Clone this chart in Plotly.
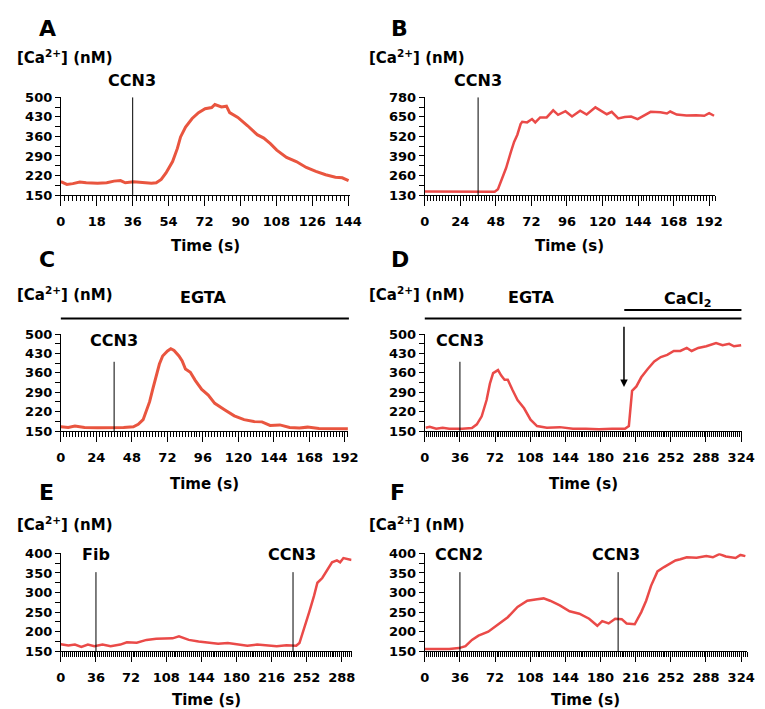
import plotly.graph_objects as go

W, H = 765, 709
FONT = "DejaVu Sans"
RED = "#e9553f"
RED2 = "#ea4a48"

# --- data (time in s, [Ca2+] in nM) ---
A_T = [0, 3, 6, 9.5, 12.7, 18.4, 23, 26.6, 29.9, 32.3, 36.4, 41.3, 45.4, 47.8, 50.3, 52.7,
       56, 58.4, 60, 62.5, 65.8, 69, 72.3, 75.6, 77.2, 80.5, 83, 84.6, 88.7, 93.6, 98.4,
       101.7, 105, 108.2, 113.1, 118, 123, 127.8, 132.7, 137.6, 141, 144.2]
A_CA = [198, 188, 191, 197, 194, 192, 194, 200, 202, 194, 198, 195, 192, 194, 206, 229,
        270, 317, 358, 393, 424, 445, 459, 463, 474, 465, 468, 445, 428, 398, 366,
        354, 334, 311, 285, 270, 249, 235, 223, 214, 212, 202]

B_T = [0, 16.5, 36.2, 40.6, 47.2, 49.4, 51.6, 54.9, 58.2, 60.3, 62.5, 64.7, 65.8, 69.1,
       72.4, 74.6, 77.9, 82.3, 86.7, 90, 95, 99.4, 104.9, 109.3, 115.2, 119.6, 122.9,
       126.2, 130.6, 135, 139.3, 143.7, 148.1, 152.5, 159.1, 163.5, 165.7, 170.1, 176.7,
       183.2, 188.7, 192, 195.3]
B_CA = [154, 154, 156, 152, 152, 169, 223, 310, 418, 483, 531, 602, 617, 613,
        635, 613, 646, 646, 693, 663, 687, 652, 691, 665, 713, 689, 667,
        683, 639, 648, 652, 635, 657, 683, 680, 672, 685, 665, 659,
        661, 657, 674, 657]

C_T = [0, 5, 9.5, 16, 24.9, 33.6, 42.4, 49, 52.3, 55.6, 57.8, 60, 62.2, 64.4, 66.6, 68.8,
       72.1, 74.3, 76.5, 79.8, 82, 84.2, 87.5, 90.8, 95.2, 99.6, 104, 110.6, 117.2, 123.8,
       130.4, 135.9, 141.4, 148, 154.6, 161.2, 166.7, 174.4, 183.2, 194]
C_CA = [165, 163, 168, 163, 162, 162, 163, 165, 174, 191, 221, 256, 303, 350, 392, 421,
        439, 447, 441, 421, 403, 374, 362, 333, 300, 280, 250, 227, 205, 191,
        184, 183, 170, 172, 163, 161, 164, 159, 158, 158]

D_T = [1, 5, 11.7, 18.3, 25, 38.3, 48.3, 53.3, 58.3, 63.3, 66.7, 70, 75, 78.3, 81.7, 85,
       90, 95, 101.7, 108.3, 115, 125, 138.3, 151.7, 165, 178.3, 191.7, 205, 209, 211,
       212.3, 216.7, 221.7, 228.3, 235, 241.7, 248.3, 255, 261.7, 268.3, 273.3, 280,
       288.3, 298.3, 305, 311.7, 316.7, 324]
D_CA = [162, 165, 158, 162, 158, 158, 161, 174, 203, 262, 321, 359, 370, 350, 335, 335,
        297, 262, 232, 191, 168, 162, 164, 158, 158, 156, 158, 158, 168, 238,
        295, 311, 344, 374, 401, 417, 425, 439, 439, 450, 439, 450,
        456, 468, 460, 465, 456, 460]

E_T = [0, 7.7, 14.4, 21, 27.7, 34.4, 42.7, 51, 61, 67.7, 77.8, 87.8, 97.8, 107.8, 114.5,
       121.1, 131.2, 141.2, 151.2, 161.2, 171.2, 181.2, 191.2, 201.2, 211.2, 221.3, 231.3,
       241.3, 244.6, 249.6, 254.6, 259.6, 263, 268, 273, 278, 283, 286.3, 289.7, 298]
E_CA = [168, 165, 167, 161, 167, 163, 167, 163, 167, 173, 172, 179, 182, 183, 183,
        188, 179, 175, 172, 169, 171, 167, 164, 167, 165, 163, 165,
        164, 171, 208, 250, 292, 325, 337, 358, 377, 382, 377, 388, 383]

F_T = [0, 11.7, 25, 35, 41.7, 48.3, 55, 65, 75, 85, 95, 105, 115, 121.7, 128.3, 138.3,
       148.3, 158.3, 168.3, 176.7, 181.7, 188.3, 195, 201.7, 206.7, 215, 221.7, 226.7,
       231.7, 238.3, 245, 251.7, 256.7, 261.7, 268.3, 278.3, 288.3, 295, 301.7, 308.3,
       318.3, 323.3, 328.3]
F_CA = [156, 156, 156, 158, 163, 179, 190, 200, 218, 237, 263, 279, 283, 285, 279, 267,
        252, 246, 233, 215, 227, 221, 233, 232, 221, 219, 250, 279,
        317, 354, 365, 375, 382, 385, 390, 389, 393, 390, 398, 392,
        388, 396, 393]

YTICKS_A = [150, 220, 290, 360, 430, 500]
YTICKS_B = [130, 260, 390, 520, 650, 780]
YTICKS_CD = [150, 220, 290, 360, 430, 500]
YTICKS_EF = [150, 200, 250, 300, 350, 400]


def px(x):
    return x / W


def py(y):
    return 1 - y / H


# letter, t, ca, color, pixel box (x0, x1, ytop, ybottom), x range, y ticks, x dtick,
# stimulus markers (t, top value, label, label pixel pos)
panels = [
    dict(letter="A", t=A_T, ca=A_CA, color=RED, lw=3, box=(49, 345.3, 84, 184), xr=[0, 145],
         yt=YTICKS_A, xd=18, letter_pos=(35, 14), ca_pos=(2, 43), time_y=236,
         marks=[(36, 500, "CCN3", (122, 67))]),
    dict(letter="B", t=B_T, ca=B_CA, color=RED2, lw=2.5, box=(421.7, 719, 84, 184), xr=[0, 196],
         yt=YTICKS_B, xd=24, letter_pos=(396, 14), ca_pos=(363, 43), time_y=236,
         marks=[(36, 780, "CCN3", (476, 67))]),
    dict(letter="C", t=C_T, ca=C_CA, color=RED, lw=3, box=(49, 343, 326, 425), xr=[0, 194],
         yt=YTICKS_CD, xd=24, letter_pos=(35, 250), ca_pos=(2, 285), time_y=479,
         marks=[(36, 400, "CCN3", (103, 333))]),
    dict(letter="D", t=D_T, ca=D_CA, color=RED2, lw=2.5, box=(421.7, 746.7, 326, 425), xr=[0, 325],
         yt=YTICKS_CD, xd=36, letter_pos=(396, 250), ca_pos=(363, 285), time_y=479,
         marks=[(36, 400, "CCN3", (458, 333))]),
    dict(letter="E", t=E_T, ca=E_CA, color=RED2, lw=2.5, box=(49, 346.7, 550, 650), xr=[0, 298],
         yt=YTICKS_EF, xd=36, letter_pos=(34, 488), ca_pos=(2, 520), time_y=700,
         marks=[(36, 352, "Fib", (85, 551)), (238, 352, "CCN3", (286, 551))]),
    dict(letter="F", t=F_T, ca=F_CA, color=RED2, lw=2.5, box=(421.7, 751.7, 550, 650), xr=[0, 330],
         yt=YTICKS_EF, xd=36, letter_pos=(394, 488), ca_pos=(363, 520), time_y=700,
         marks=[(36, 352, "CCN2", (457, 551)), (198, 352, "CCN3", (618, 551))]),
]

fig = go.Figure()
shapes = []
annotations = []


def text(s, x, y, size, xanchor="center"):
    annotations.append(dict(
        text=s, x=px(x), y=py(y), xref="paper", yref="paper", showarrow=False,
        xanchor=xanchor, yanchor="middle",
        font=dict(family=FONT, size=size, color="black", weight="bold"),
    ))


for i, p in enumerate(panels, start=1):
    sfx = "" if i == 1 else str(i)
    xk, yk = "x" + sfx, "y" + sfx
    x0, x1, yt, yb = p["box"]
    step = p["yt"][1] - p["yt"][0]

    fig.add_trace(go.Scatter(
        x=p["t"], y=p["ca"], mode="lines", xaxis=xk, yaxis=yk,
        line=dict(color=p["color"], width=p["lw"]), hoverinfo="skip", showlegend=False,
    ))

    fig.update_layout({
        "xaxis" + sfx: dict(
            domain=[px(x0), px(x1)], range=p["xr"], anchor=yk,
            tickmode="linear", tick0=0, dtick=p["xd"],
            showline=True, linecolor="black", linewidth=1,
            ticks="outside", ticklen=10, tickwidth=1, tickcolor="black",
            minor=dict(ticks="outside", ticklen=5, tick0=0, dtick=2, tickcolor="black",
                       tickwidth=1, showgrid=False),
            showgrid=False, zeroline=False, ticklabelstandoff=4,
            tickfont=dict(family=FONT, size=13, color="black", weight="bold"),
        ),
        "yaxis" + sfx: dict(
            domain=[py(yb), py(yt)], range=[p["yt"][0], p["yt"][-1]], anchor=xk,
            tickmode="array", tickvals=p["yt"],
            showline=True, linecolor="black", linewidth=1,
            ticks="outside", ticklen=5, tickwidth=1, tickcolor="black",
            minor=dict(ticks="outside", ticklen=5, tick0=p["yt"][0], dtick=step / 2,
                       tickcolor="black", tickwidth=1, showgrid=False),
            showgrid=False, zeroline=False,
            tickfont=dict(family=FONT, size=13, color="black", weight="bold"),
        ),
    })

    for t, top, label, lpos in p["marks"]:
        shapes.append(dict(type="line", xref=xk, yref=yk, x0=t, x1=t,
                           y0=p["yt"][0], y1=top, line=dict(color="black", width=1)))
        text(label, lpos[0], lpos[1], 16)

    text(p["letter"], p["letter_pos"][0], p["letter_pos"][1], 22)
    text("[Ca<sup>2+</sup>] (nM)", p["ca_pos"][0], p["ca_pos"][1], 15, xanchor="left")
    text("Time (s)", (x0 + x1) / 2, p["time_y"], 15)

# EGTA / CaCl2 bars
shapes.append(dict(type="line", xref="paper", yref="paper", x0=px(49), x1=px(344),
                   y0=py(310), y1=py(310), line=dict(color="black", width=2)))
shapes.append(dict(type="line", xref="paper", yref="paper", x0=px(421.7), x1=px(746),
                   y0=py(310), y1=py(310), line=dict(color="black", width=2)))
shapes.append(dict(type="line", xref="paper", yref="paper", x0=px(626), x1=px(746),
                   y0=py(301.5), y1=py(301.5), line=dict(color="black", width=2)))
text("EGTA", 195, 289, 16)
text("EGTA", 530, 289, 16)
text("CaCl<sub>2</sub>", 691, 291, 16)

# CaCl2 addition arrow in D
annotations.append(dict(
    x=204, y=309, xref="x4", yref="y4", ax=204, ay=532, axref="x4", ayref="y4",
    text="", showarrow=True, arrowhead=2, arrowsize=1, arrowwidth=1.5, arrowcolor="black",
))

fig.update_layout(
    width=W, height=H, margin=dict(l=0, r=0, t=0, b=0),
    plot_bgcolor="white", paper_bgcolor="white",
    showlegend=False, shapes=shapes, annotations=annotations,
)

fig.write_html("out.html")
